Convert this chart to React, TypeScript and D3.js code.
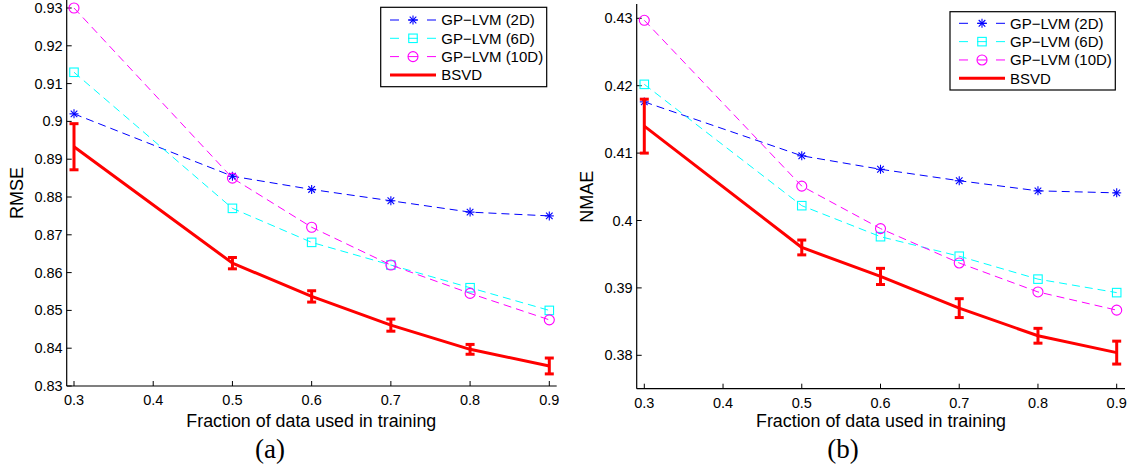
import React from "react";
import * as d3 from "d3";

const fractions = [0.3, 0.5, 0.6, 0.7, 0.8, 0.9];
const xTicks = [0.3, 0.4, 0.5, 0.6, 0.7, 0.8, 0.9];

const rmseTicks = [0.83, 0.84, 0.85, 0.86, 0.87, 0.88, 0.89, 0.9, 0.91, 0.92, 0.93];
const rmse2D = [0.902, 0.8855, 0.882, 0.879, 0.876, 0.875];
const rmse6D = [0.913, 0.877, 0.868, 0.862, 0.856, 0.85];
const rmse10D = [0.93, 0.885, 0.872, 0.862, 0.8545, 0.8475];
const rmseBSVD = [0.8933, 0.8625, 0.8537, 0.8461, 0.8397, 0.8353];
const rmseBSVDErr = [0.0061, 0.0015, 0.0015, 0.0016, 0.0013, 0.0021];

const nmaeTicks = [0.38, 0.39, 0.4, 0.41, 0.42, 0.43];
const nmae2D = [0.4176, 0.4096, 0.4076, 0.4059, 0.4044, 0.4041];
const nmae6D = [0.4202, 0.4022, 0.3976, 0.3947, 0.3913, 0.3893];
const nmae10D = [0.4297, 0.4051, 0.3988, 0.3937, 0.3894, 0.3867];
const nmaeBSVD = [0.414, 0.396, 0.3917, 0.387, 0.3829, 0.3804];
const nmaeBSVDErr = [0.004, 0.0011, 0.0012, 0.0014, 0.0011, 0.0017];

const seriesNames = ["GP\u2212LVM (2D)", "GP\u2212LVM (6D)", "GP\u2212LVM (10D)", "BSVD"];
const seriesColors = ["#0000ff", "#00ffff", "#ff00ff", "#ff0000"];
const seriesMarkers = ["star", "square", "circle", "none"];

const FONT = "'Liberation Sans', Arial, Helvetica, sans-serif";

function Marker({ type, x, y, color }: { type: string; x: number; y: number; color: string }) {
  if (type === "star") {
    const a = 4.5, b = 3.3;
    return (
      <g stroke={color} strokeWidth={1.1}>
        <line x1={x - a} y1={y} x2={x + a} y2={y} />
        <line x1={x} y1={y - a} x2={x} y2={y + a} />
        <line x1={x - b} y1={y - b} x2={x + b} y2={y + b} />
        <line x1={x - b} y1={y + b} x2={x + b} y2={y - b} />
      </g>
    );
  }
  if (type === "square") {
    const s = 8.5;
    return <rect x={x - s / 2} y={y - s / 2} width={s} height={s} fill="none" stroke={color} strokeWidth={1.1} />;
  }
  if (type === "circle") {
    return <circle cx={x} cy={y} r={5} fill="none" stroke={color} strokeWidth={1.1} />;
  }
  return null;
}

type PanelProps = {
  ticks: number[];
  series: number[][];
  bsvd: number[];
  err: number[];
  axisX: [number, number];
  xRange: [number, number];
  axisY: [number, number];
  yDomain: [number, number];
  yRange: [number, number];
  legend: { x: number; y: number; w: number; h: number; row0: number; step: number; s0: number; s1: number; tx: number };
  ylabel: string;
  ylabelPos: [number, number];
  xlabelPos: [number, number];
  caption: string;
  captionPos: [number, number];
};

function Panel(p: PanelProps) {
  const x = d3.scaleLinear().domain([0.3, 0.9]).range(p.xRange);
  const y = d3.scaleLinear().domain(p.yDomain).range(p.yRange);
  const line = d3
    .line<number>()
    .x((_, i) => x(fractions[i]))
    .y((d) => y(d));
  const fmt = (v: number) => String(+v.toFixed(2));
  const [ax0, ax1] = p.axisX;
  const [ayTop, ayBot] = p.axisY;
  const L = p.legend;
  return (
    <g fontFamily={FONT}>
      {/* axes */}
      <line x1={ax0} y1={ayBot} x2={ax1} y2={ayBot} stroke="#000" strokeWidth={1.2} />
      <line x1={ax0} y1={ayBot} x2={ax0} y2={ayTop} stroke="#000" strokeWidth={1.2} />
      {xTicks.map((t) => (
        <g key={"x" + t}>
          <line x1={x(t)} x2={x(t)} y1={ayBot} y2={ayBot - 5} stroke="#000" strokeWidth={1} />
          <text x={x(t)} y={ayBot + 19} fontSize={14.5} textAnchor="middle" fill="#000">
            {fmt(t)}
          </text>
        </g>
      ))}
      {p.ticks.map((t) => (
        <g key={"y" + t}>
          <line x1={ax0} x2={ax0 + 5} y1={y(t)} y2={y(t)} stroke="#000" strokeWidth={1} />
          <text x={ax0 - 4} y={y(t) + 5} fontSize={14.5} textAnchor="end" fill="#000">
            {fmt(t)}
          </text>
        </g>
      ))}
      <text
        transform={`translate(${p.ylabelPos[0]},${p.ylabelPos[1]}) rotate(-90)`}
        fontSize={18}
        textAnchor="middle"
        fill="#000"
      >
        {p.ylabel}
      </text>
      <text x={p.xlabelPos[0]} y={p.xlabelPos[1]} fontSize={17.5} textAnchor="middle" fill="#000" textLength={250} lengthAdjust="spacingAndGlyphs">
        Fraction of data used in training
      </text>
      <text
        x={p.captionPos[0]}
        y={p.captionPos[1]}
        fontSize={27}
        textAnchor="middle"
        fill="#000"
        fontFamily="'Liberation Serif','DejaVu Serif',serif"
      >
        {p.caption}
      </text>

      {/* GP-LVM series */}
      {p.series.map((s, si) => (
        <g key={"s" + si}>
          <path d={line(s) || ""} fill="none" stroke={seriesColors[si]} strokeWidth={1} strokeDasharray="8,5" />
          {s.map((v, i) => (
            <Marker key={i} type={seriesMarkers[si]} x={x(fractions[i])} y={y(v)} color={seriesColors[si]} />
          ))}
        </g>
      ))}

      {/* BSVD */}
      <path d={line(p.bsvd) || ""} fill="none" stroke={seriesColors[3]} strokeWidth={3} strokeLinejoin="round" />
      {p.bsvd.map((v, i) => {
        const cx = x(fractions[i]);
        const top = y(v + p.err[i]);
        const bot = y(v - p.err[i]);
        return (
          <g key={"e" + i} stroke={seriesColors[3]} strokeWidth={3}>
            <line x1={cx} x2={cx} y1={top} y2={bot} />
            <line x1={cx - 4.5} x2={cx + 4.5} y1={top} y2={top} />
            <line x1={cx - 4.5} x2={cx + 4.5} y1={bot} y2={bot} />
          </g>
        );
      })}

      {/* legend */}
      <rect x={L.x} y={L.y} width={L.w} height={L.h} fill="#fff" stroke="#000" strokeWidth={1.2} />
      {seriesNames.map((name, i) => {
        const ry = L.row0 + i * L.step;
        const mid = (L.s0 + L.s1) / 2;
        return (
          <g key={"l" + i}>
            {i < 3 ? (
              <g stroke={seriesColors[i]} strokeWidth={1}>
                <line x1={L.s0} x2={L.s0 + 9} y1={ry} y2={ry} />
                <line x1={mid - 5} x2={mid + 5} y1={ry} y2={ry} />
                <line x1={L.s1 - 9} x2={L.s1} y1={ry} y2={ry} />
              </g>
            ) : (
              <line x1={L.s0} x2={L.s1} y1={ry} y2={ry} stroke={seriesColors[i]} strokeWidth={3} />
            )}
            <Marker type={seriesMarkers[i]} x={mid} y={ry} color={seriesColors[i]} />
            <text x={L.tx} y={ry + 5.3} fontSize={15} fill="#000">
              {name}
            </text>
          </g>
        );
      })}
    </g>
  );
}

export default function App() {
  return (
    <svg
      width={1134}
      height={467}
      style={{ position: "absolute", left: 0, top: 0, background: "#fff" }}
    >
      <rect x={0} y={0} width={1134} height={467} fill="#fff" />
      <Panel
        ticks={rmseTicks}
        series={[rmse2D, rmse6D, rmse10D]}
        bsvd={rmseBSVD}
        err={rmseBSVDErr}
        axisX={[66.7, 556.7]}
        xRange={[74, 549.3]}
        axisY={[0, 386]}
        yDomain={[0.83, 0.93]}
        yRange={[386, 8]}
        legend={{ x: 380.7, y: 7.3, w: 166, h: 79.4, row0: 20, step: 18.3, s0: 390, s1: 436, tx: 441.3 }}
        ylabel="RMSE"
        ylabelPos={[22.5, 193]}
        xlabelPos={[311.3, 427.3]}
        caption="(a)"
        captionPos={[270, 458]}
      />
      <Panel
        ticks={nmaeTicks}
        series={[nmae2D, nmae6D, nmae10D]}
        bsvd={nmaeBSVD}
        err={nmaeBSVDErr}
        axisX={[636.7, 1125]}
        xRange={[644.3, 1116.7]}
        axisY={[4, 388.7]}
        yDomain={[0.38, 0.43]}
        yRange={[355.3, 18.3]}
        legend={{ x: 950, y: 11.7, w: 165.3, h: 78.3, row0: 23.3, step: 18.33, s0: 959, s1: 1005, tx: 1010 }}
        ylabel="NMAE"
        ylabelPos={[593, 196.7]}
        xlabelPos={[881, 427.3]}
        caption="(b)"
        captionPos={[843, 458]}
      />
    </svg>
  );
}
